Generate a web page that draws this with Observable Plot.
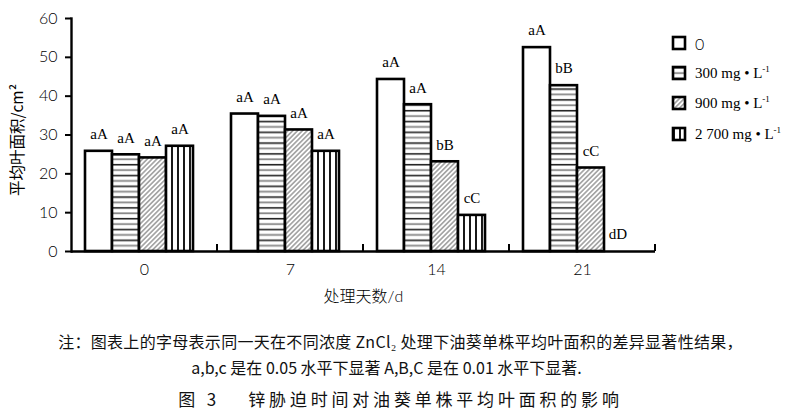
<!DOCTYPE html>
<html><head><meta charset="utf-8">
<script src="https://cdn.jsdelivr.net/npm/d3@7"></script>
<script src="https://cdn.jsdelivr.net/npm/@observablehq/plot@0.6"></script>
<style>
html,body{margin:0;padding:0;background:#fff;overflow:hidden;}
#wrap{position:relative;width:801px;height:413px;overflow:hidden;background:#fff;}
#chart{position:absolute;left:0;top:0;}
.cap{position:absolute;left:0;width:801px;text-align:center;font-family:"Noto Sans CJK SC";color:#111;white-space:nowrap;}
.item{position:absolute;left:671px;height:16px;display:flex;align-items:center;white-space:nowrap;font-family:"Liberation Serif";font-size:15px;color:#000;}
.item svg{margin-right:8px;}
</style></head>
<body>
<div id="wrap">
  <div id="chart"></div>
  <div id="legend"></div>
  <div class="cap" id="c1" style="top:332px;font-size:16px;line-height:18px;letter-spacing:0.3px;"></div>
  <div class="cap" id="c2" style="top:358px;font-size:16px;line-height:18px;left:-14px;"></div>
  <div class="cap" id="c3" style="top:390px;font-size:17px;line-height:17px;letter-spacing:3.8px;"></div>
</div>
<script>
// ---- data ----
const days = ["0", "7", "14", "21"];
const seriesKeys = ["c0", "c300", "c900", "c2700"];
const seriesLabels = ["0", "300 mg • L", "900 mg • L", "2 700 mg • L"];
const seriesSup = ["", "-1", "-1", "-1"];
const control = [25.8, 35.4, 44.3, 52.5];
const zn300 = [24.9, 34.8, 37.8, 42.7];
const zn900 = [24.1, 31.3, 23.1, 21.5];
const zn2700 = [27.1, 25.8, 9.3, 0];
const letters0 = ["aA", "aA", "aA", "aA"];
const letters300 = ["aA", "aA", "aA", "bB"];
const letters900 = ["aA", "aA", "bB", "cC"];
const letters2700 = ["aA", "aA", "cC", "dD"];
const yTicks = [0, 10, 20, 30, 40, 50, 60];
const yLabel = "平均叶面积/cm²";
const xLabel = "处理天数/d";
const note1 = "注：图表上的字母表示同一天在不同浓度 ZnCl₂ 处理下油葵单株平均叶面积的差异显著性结果，";
const note2 = "a,b,c 是在 0.05 水平下显著 A,B,C 是在 0.01 水平下显著.";
const title = "图 3　 锌胁迫时间对油葵单株平均叶面积的影响";

const seriesValues = [control, zn300, zn900, zn2700];
const seriesLetters = [letters0, letters300, letters900, letters2700];
const fills = ["#fff", "url(#pH)", "url(#pD)", "url(#pV)"];

const table = [];
seriesKeys.forEach((s, i) => days.forEach((d, j) => {
  table.push({day: d, series: s, value: seriesValues[i][j], letter: seriesLetters[i][j]});
}));

function groupTicks() {
  return Plot.ruleY([0], {
    render(index, scales, values, dimensions) {
      const x = scales.x, y = scales.y;
      const xe = x && x.range ? Math.max(...x.range()) : dimensions.width - dimensions.marginRight;
      const y0 = y(0);
      const g = d3.create("svg:g");
      g.append("line").attr("x1", xe).attr("x2", xe).attr("y1", y0).attr("y2", y0 - 7)
        .attr("stroke", "#000").attr("stroke-width", 2);
      return g.node();
    }
  });
}

const chart = Plot.plot({
  width: 801, height: 310,
  marginLeft: 70, marginRight: 145, marginTop: 18, marginBottom: 59,
  style: {fontFamily: "Lato, Noto Sans CJK SC", fontSize: "15px", color: "#000", background: "transparent"},
  fx: {domain: days, padding: 0, label: null},
  x: {domain: seriesKeys, paddingInner: 0, paddingOuter: 0.66, align: 0.38, axis: null},
  y: {domain: [0, 60], ticks: yTicks},
  color: {type: "ordinal", domain: seriesKeys, range: fills},
  marks: [
    Plot.barY(table, {fx: "day", x: "series", y: "value", fill: "series", stroke: "#000", strokeWidth: 2.6}),
    Plot.text(table, {fx: "day", x: "series", y: "value", text: "letter", dy: -17,
      fontFamily: "Liberation Serif", fontSize: 15, fill: "#000"}),
    Plot.ruleY([0], {stroke: "#000", strokeWidth: 2.6}),
    groupTicks(),
    Plot.axisY({ticks: yTicks, tickSize: 6, tickPadding: 8, strokeWidth: 2, fontSize: 16, fontWeight: 300,
      label: null}),
    Plot.text([yLabel], {frameAnchor: "left", facetAnchor: "left", rotate: -90, dx: -53, dy: 5, text: d => d,
      textAnchor: "middle", fontFamily: "Noto Sans CJK SC", fontSize: 15.5, fill: "#000"}),
    Plot.frame({anchor: "left", facetAnchor: "left", stroke: "#000", strokeWidth: 2.4}),
    Plot.axisFx({anchor: "bottom", tickSize: 0, tickPadding: 12, label: xLabel, fontSize: 16, fontWeight: 300,
      labelAnchor: "center", labelOffset: 50, labelArrow: "none"})
  ]
});

// patterns
const svg = d3.select(chart);
const defs = svg.insert("defs", ":first-child");
const pH = defs.append("pattern").attr("id", "pH").attr("patternUnits", "userSpaceOnUse").attr("width", 8).attr("height", 10.8);
pH.append("rect").attr("width", 8).attr("height", 10.8).attr("fill", "#fff");
pH.append("line").attr("x1", 0).attr("x2", 8).attr("y1", 2.7).attr("y2", 2.7).attr("stroke", "#222").attr("stroke-width", 1.6);
pH.append("line").attr("x1", 0).attr("x2", 8).attr("y1", 8.1).attr("y2", 8.1).attr("stroke", "#888").attr("stroke-width", 1.8);
const pD = defs.append("pattern").attr("id", "pD").attr("patternUnits", "userSpaceOnUse").attr("width", 3.4).attr("height", 10)
  .attr("patternTransform", "rotate(45)");
pD.append("rect").attr("width", 3.4).attr("height", 10).attr("fill", "#fff");
pD.append("line").attr("x1", 1.7).attr("x2", 1.7).attr("y1", 0).attr("y2", 10).attr("stroke", "#555").attr("stroke-width", 0.9);
const pV = defs.append("pattern").attr("id", "pV").attr("patternUnits", "userSpaceOnUse").attr("width", 6).attr("height", 10);
pV.append("rect").attr("width", 6).attr("height", 10).attr("fill", "#fff");
pV.append("line").attr("x1", 3).attr("x2", 3).attr("y1", 0).attr("y2", 10).attr("stroke", "#000").attr("stroke-width", 1.8);

document.getElementById("chart").appendChild(chart);

// legend
const legend = document.getElementById("legend");
const legendCenters = [43, 73, 103, 134];
seriesKeys.forEach((s, i) => {
  const div = document.createElement("div");
  div.className = "item";
  div.style.top = (legendCenters[i] - 8) + "px";
  div.innerHTML = `<svg width="16" height="16"><rect x="2" y="2" width="12" height="12" fill="${fills[i]}" stroke="#000" stroke-width="2.6"/></svg>` +
    `<span style="${i === 0 ? 'font-family:Lato;font-weight:300;font-size:16px;' : ''}">${seriesLabels[i]}${seriesSup[i] ? `<sup style="font-size:9px;vertical-align:6px">${seriesSup[i]}</sup>` : ""}</span>`;
  legend.appendChild(div);
});

document.getElementById("c1").textContent = note1;
document.getElementById("c2").textContent = note2;
document.getElementById("c3").textContent = title;
</script>
</body></html>
